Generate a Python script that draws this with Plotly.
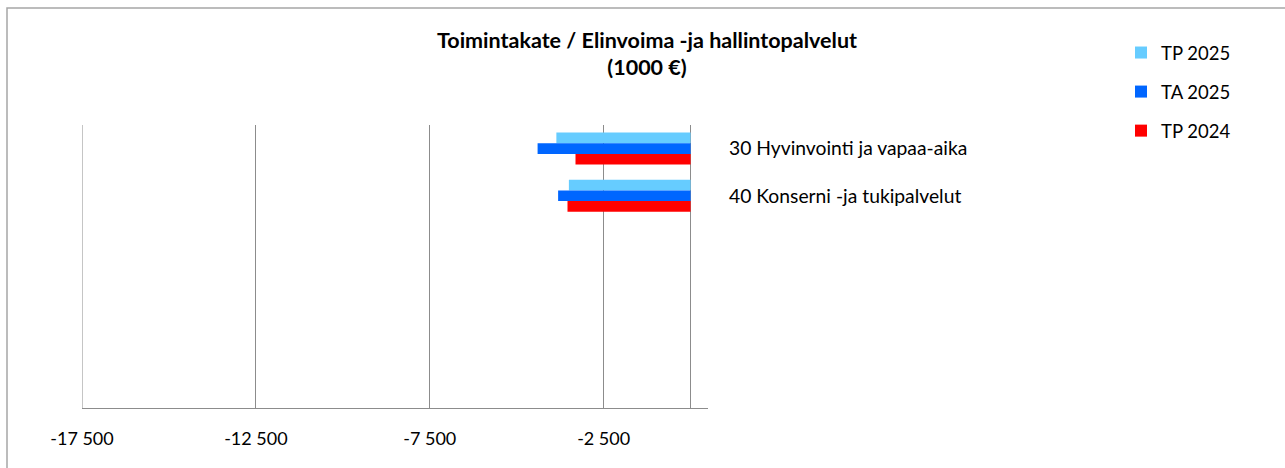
import plotly.graph_objects as go

categories = ["30 Hyvinvointi ja vapaa-aika", "40 Konserni -ja tukipalvelut"]
series_names = ["TP 2025", "TA 2025", "TP 2024"]
tp2025 = [-3860, -3500]
ta2025 = [-4400, -3810]
tp2024 = [-3310, -3540]
tick_vals = [-17500, -12500, -7500, -2500]
tick_text = ["-17 500", "-12 500", "-7 500", "-2 500"]
colors = ["#66CCFF", "#0066FF", "#FF0000"]

FONT = "Lato"
W, H = 1285, 468
L, R, T, B = 82, 708, 125, 408
GRID = "#8C8C8C"

fig = go.Figure()
for name, vals, col in zip(series_names, [tp2025, ta2025, tp2024], colors):
    fig.add_trace(go.Bar(
        y=categories, x=vals, name=name, orientation="h",
        marker=dict(color=col, line=dict(width=0)),
        legendgroup=name,
    ))

def px_x(p):
    return (p - L) / (R - L)

def px_y(p):
    return (B - p) / (B - T)

fig.update_layout(
    width=W, height=H,
    margin=dict(l=L, r=W - R, t=T, b=H - B),
    paper_bgcolor="white", plot_bgcolor="white",
    barmode="group", bargap=0.32, bargroupgap=0,
    font=dict(family=FONT, color="#000000", size=18),
    title=dict(
        text="<b>Toimintakate / Elinvoima -ja hallintopalvelut<br>(1000 €)</b>",
        x=647 / W, xanchor="center", y=1 - 47.5 / H, yanchor="top",
        font=dict(family=FONT, size=21.5, color="#000000"),
    ),
    showlegend=True,
    legend=dict(
        x=px_x(1121), y=px_y(34), xanchor="left", yanchor="top",
        traceorder="grouped", tracegroupgap=12,
        font=dict(family=FONT, size=18.5, color="#000000"),
        bgcolor="rgba(0,0,0,0)",
    ),
    xaxis=dict(
        range=[-17500, 500], tickvals=tick_vals, ticktext=tick_text,
        showgrid=True, gridcolor=GRID, gridwidth=1,
        zeroline=True, zerolinecolor=GRID, zerolinewidth=1,
        showline=True, linecolor=GRID, linewidth=1,
        ticks="", ticklabelstandoff=14,
        tickfont=dict(family=FONT, size=18, color="#000000"),
        fixedrange=True,
    ),
    yaxis=dict(
        type="category", range=[5.5, -0.5], side="right",
        showgrid=False, zeroline=False, showline=False, ticks="",
        ticklabelstandoff=20,
        tickfont=dict(family=FONT, size=19.3, color="#000000"),
        fixedrange=True,
    ),
    shapes=[
        dict(
            type="rect", xref="paper", yref="paper",
            x0=px_x(7), x1=px_x(1300), y0=px_y(8), y1=px_y(480),
            line=dict(color="#A6A6A6", width=1.5), fillcolor="rgba(0,0,0,0)",
            layer="below",
        ),
        dict(
            type="line", xref="x", yref="paper",
            x0=tick_vals[0], x1=tick_vals[0], y0=0, y1=1,
            line=dict(color=GRID, width=1), layer="below",
        ),
    ],
)

fig.write_html(
    "out.html",
    config={"displayModeBar": False},
    post_script="document.body.style.margin='0';document.body.style.padding='0';",
)
